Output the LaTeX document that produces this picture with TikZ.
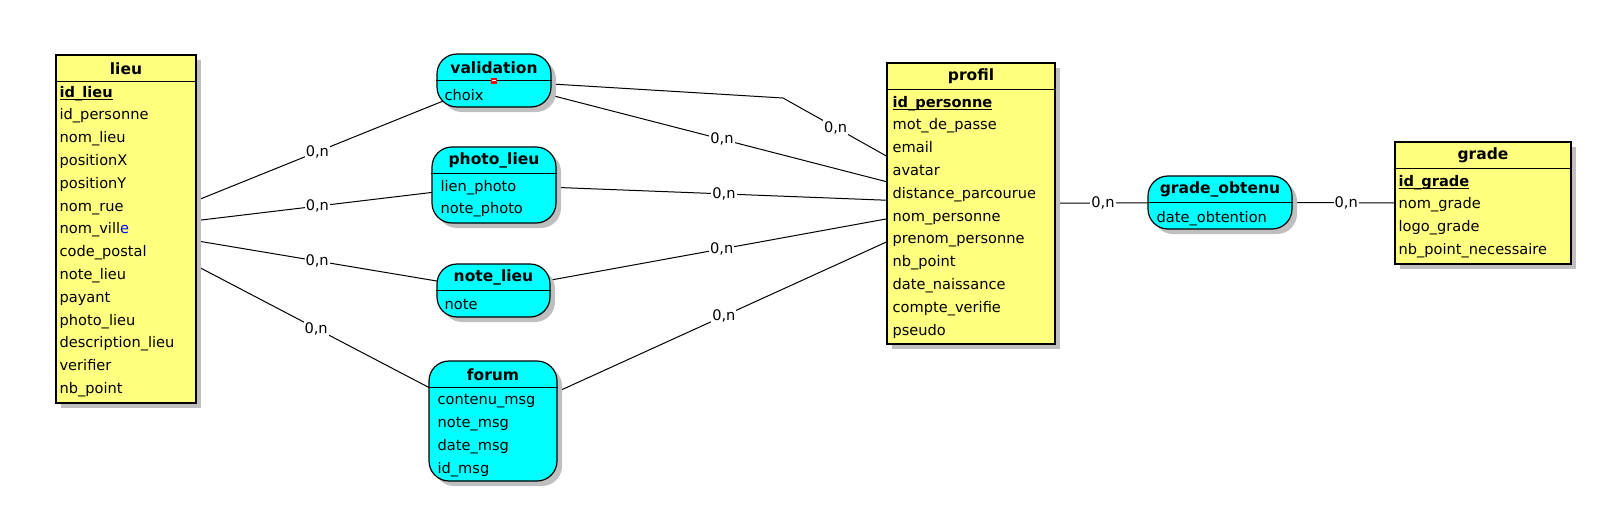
\documentclass[tikz,border=0pt]{standalone}
\usepackage{fontspec}
\setmainfont{DejaVu Sans}
\usetikzlibrary{shadows}
\pgfdeclarelayer{background}
\pgfsetlayers{background,main}
\definecolor{entityyellow}{RGB}{255,255,128}
\definecolor{assoccyan}{RGB}{0,255,255}
\newcommand{\primkey}[1]{\setbox0=\hbox{\bfseries #1}\rlap{\rule[-3pt]{\wd0}{1.4pt}}\box0}
\tikzset{
  entity/.style={draw, line width=1.2pt, fill=entityyellow, inner sep=0pt,
    drop shadow={shadow xshift=5pt, shadow yshift=-5pt, fill=black!25, opacity=1}},
  assoc/.style={entity, fill=assoccyan, rounded corners=20pt},
  title/.style={inner sep=0pt, font=\bfseries\fontsize{15.5}{18}\selectfont},
  attrs/.style={anchor=north west, align=left, inner sep=0pt, execute at begin node={\rule{0pt}{15.8pt}},
    font=\fontsize{14.6}{22.8}\selectfont},
  card/.style={fill=white, inner sep=1pt, font=\fontsize{14.6}{17}\selectfont},
  link/.style={line width=1pt}
}
\begin{document}
\begin{tikzpicture}[x=1pt, y=-1pt]
	\useasboundingbox (0,0) rectangle (1614,517);
	% entities
	\node[entity, minimum width=140pt, minimum height=348pt] (lieu) at (126,229) {};
	\node[entity, minimum width=168pt, minimum height=281pt] (profil) at (971,203.5) {};
	\node[entity, minimum width=176pt, minimum height=122pt] (grade) at (1483,203) {};
	% associations
	\node[assoc, minimum width=114pt, minimum height=53pt] (val) at (494,80.5) {};
	\node[assoc, minimum width=124pt, minimum height=76pt] (photo) at (494,185) {};
	\node[assoc, minimum width=113pt, minimum height=53pt] (notel) at (493.5,290.5) {};
	\node[assoc, minimum width=128pt, minimum height=120pt] (forum) at (493,421) {};
	\node[assoc, minimum width=144pt, minimum height=53pt] (gobt) at (1220,202.5) {};
	% header lines
	\foreach \b in {lieu,profil,grade,val,photo,notel,forum,gobt}
		\draw[line width=1.2pt] ([yshift=-27pt]\b.north west) -- ([yshift=-27pt]\b.north east);
	% titles
	\node[title] (lieu-t) at ([yshift=-14pt]lieu.north) {lieu};
	\node[title] (profil-t) at ([yshift=-14pt]profil.north) {profil};
	\node[title] (grade-t) at ([yshift=-13.5pt]grade.north) {grade};
	\node[title] (val-t) at ([yshift=-14pt]val.north) {validation};
	\node[title] (photo-t) at ([yshift=-14.5pt]photo.north) {photo\_lieu};
	\node[title] (notel-t) at ([yshift=-14pt]notel.north) {note\_lieu};
	\node[title] (forum-t) at ([yshift=-14pt]forum.north) {forum};
	\node[title] (gobt-t) at ([yshift=-14.5pt]gobt.north) {grade\_obtenu};
	% attributes
	\node[attrs] (lieu-a) at ([xshift=4pt, yshift=-31.5pt]lieu.north west)
		{\primkey{id\_lieu}\\id\_personne\\nom\_lieu\\positionX\\positionY\\nom\_rue\\nom\_vill\textcolor{blue}{e}\\code\_postal\\note\_lieu\\payant\\photo\_lieu\\description\_lieu\\verifier\\nb\_point};
	\node[attrs] (profil-a) at ([xshift=6pt, yshift=-33.5pt]profil.north west)
		{\primkey{id\_personne}\\mot\_de\_passe\\email\\avatar\\distance\_parcourue\\nom\_personne\\prenom\_personne\\nb\_point\\date\_naissance\\compte\_verifie\\pseudo};
	\node[attrs] (grade-a) at ([xshift=4pt, yshift=-33.5pt]grade.north west)
		{\primkey{id\_grade}\\nom\_grade\\logo\_grade\\nb\_point\_necessaire};
	\node[attrs] (val-a) at ([xshift=8pt, yshift=-31pt]val.north west) {choix};
	\node[attrs] (photo-a) at ([xshift=9pt, yshift=-33.5pt]photo.north west) {lien\_photo\\note\_photo};
	\node[attrs] (notel-a) at ([xshift=8pt, yshift=-30.5pt]notel.north west) {note};
	\node[attrs] (forum-a) at ([xshift=9pt, yshift=-34pt]forum.north west) {contenu\_msg\\note\_msg\\date\_msg\\id\_msg};
	\node[attrs] (gobt-a) at ([xshift=9pt, yshift=-31pt]gobt.north west) {date\_obtention};
	% selection mark
	\fill[red] (491,78) rectangle (497,83.5);
	\draw[white, line width=0.8pt] (492,80.7) -- (496,80.7);
	% links
	\coordinate (bend) at (783,98);
	\begin{pgfonlayer}{background}
		\draw[link] (lieu.center) -- node[card, pos=0.52] (c1) {0,n} (val.center);
		\draw[link] (lieu.center) -- node[card, pos=0.52] (c2) {0,n} (photo.center);
		\draw[link] (lieu.center) -- node[card, pos=0.52] (c3) {0,n} (notel.center);
		\draw[link] (lieu.center) -- node[card, pos=0.518] (c4) {0,n} (forum.center);
		\draw[link] (val.center) -- (bend) -- node[card, pos=0.28] (c5) {0,n} (profil.center);
		\draw[link] (val.center) -- node[card, pos=0.478] (c6) {0,n} (profil.center);
		\draw[link] (photo.center) -- node[card, pos=0.482] (c7) {0,n} (profil.center);
		\draw[link] (notel.center) -- node[card, pos=0.478] (c8) {0,n} (profil.center);
		\draw[link] (forum.center) -- node[card, pos=0.483] (c9) {0,n} (profil.center);
		\draw[link] (profil.center) -- node[card, pos=0.53] (c10) {0,n} (gobt.center);
		\draw[link] (gobt.center) -- node[card, pos=0.48] (c11) {0,n} (grade.center);
	\end{pgfonlayer}
\end{tikzpicture}
\end{document}
